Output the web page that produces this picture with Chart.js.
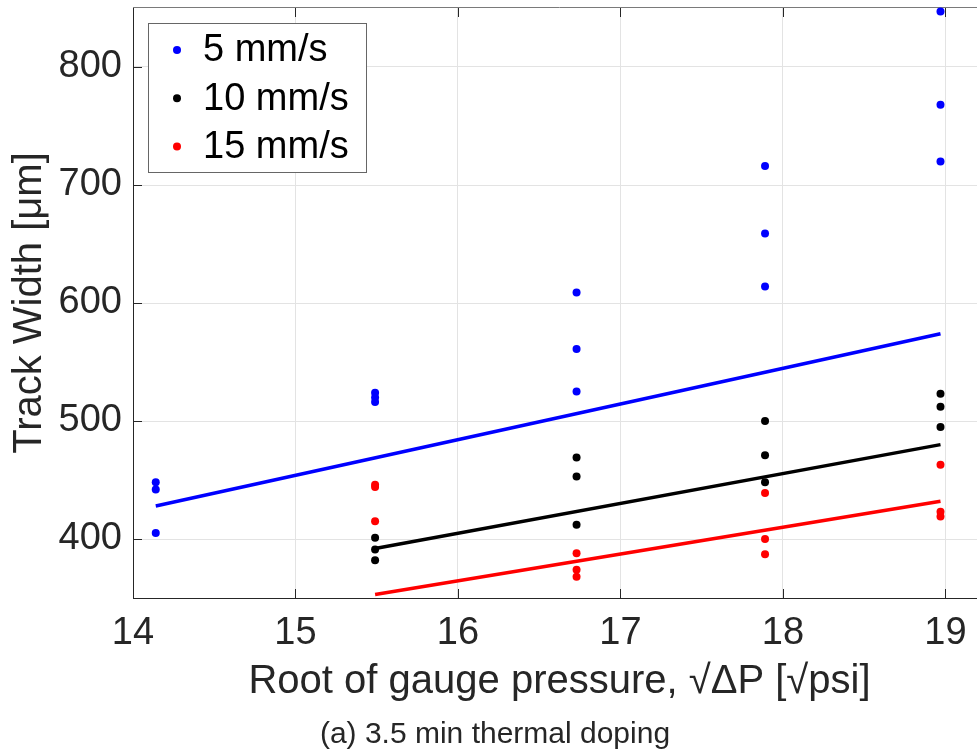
<!DOCTYPE html>
<html>
<head>
<meta charset="utf-8">
<script src="https://cdn.jsdelivr.net/npm/chart.js@4.4.1/dist/chart.umd.min.js"></script>
<style>
  html, body { margin: 0; padding: 0; background: #fff; overflow: hidden; }
  canvas { display: block; }
</style>
</head>
<body>
<!-- the original figure is cut off on the right, so the canvas runs past the window -->
<canvas id="chart" width="990" height="755"></canvas>
<script>
// measured track widths, three repeats per pressure level
const seriesNames = ["5 mm/s", "10 mm/s", "15 mm/s"];
const seriesColors = ["#0000ff", "#000000", "#ff0000"];

const x5 = [14.14, 14.14, 14.14, 15.49, 15.49, 15.49, 16.73, 16.73, 16.73, 17.89, 17.89, 17.89, 18.97, 18.97, 18.97];
const w5 = [448, 442, 405, 524, 520, 516, 609, 561, 525, 716, 659, 614, 847, 768, 720];

const x10 = [15.49, 15.49, 15.49, 16.73, 16.73, 16.73, 17.89, 17.89, 17.89, 18.97, 18.97, 18.97];
const w10 = [401, 391, 382, 469, 453, 412, 500, 471, 448, 523, 512, 495];

const x15 = [15.49, 15.49, 15.49, 16.73, 16.73, 16.73, 17.89, 17.89, 17.89, 18.97, 18.97, 18.97];
const w15 = [446, 444, 415, 388, 374, 368, 439, 400, 387, 463, 423, 419];

// linear fit end points
const fitX5 = [14.14, 18.97];
const fitY5 = [428, 574];
const fitX10 = [15.49, 18.97];
const fitY10 = [392, 480];
const fitX15 = [15.49, 18.97];
const fitY15 = [353, 432];

const xTicks = [14, 15, 16, 17, 18, 19];
const yTicks = [400, 500, 600, 700, 800];

const FONT = "'Liberation Sans', Arial, Helvetica, sans-serif";
const AXIS_COLOR = "#262626";

function pts(xs, ys) {
  return xs.map((x, i) => ({x, y: ys[i]}));
}

function dots(i, xs, ys) {
  return {
    type: "scatter",
    label: seriesNames[i],
    data: pts(xs, ys),
    backgroundColor: seriesColors[i],
    borderColor: seriesColors[i],
    pointRadius: 4,
    borderWidth: 0,
    clip: false,
    order: 1
  };
}

function fitLine(i, xs, ys) {
  return {
    type: "line",
    label: seriesNames[i] + " fit",
    data: pts(xs, ys),
    borderColor: seriesColors[i],
    borderWidth: 3.5,
    pointRadius: 0,
    fill: false,
    clip: false,
    order: 0
  };
}

// matlab-like frame: top/right edges plus inward tick marks
const frame = {
  id: "frame",
  beforeDatasetsDraw(chart) {
    const {ctx, chartArea: a, scales} = chart;
    ctx.save();
    ctx.strokeStyle = AXIS_COLOR;
    ctx.lineWidth = 1;
    ctx.beginPath();
    for (const v of xTicks) {
      const px = Math.round(scales.x.getPixelForValue(v)) + 0.5;
      ctx.moveTo(px, a.bottom);
      ctx.lineTo(px, a.bottom - 9);
      ctx.moveTo(px, a.top);
      ctx.lineTo(px, a.top + 9);
    }
    for (const v of yTicks) {
      const py = Math.round(scales.y.getPixelForValue(v)) + 0.5;
      ctx.moveTo(a.left, py);
      ctx.lineTo(a.left + 9, py);
      ctx.moveTo(a.right, py);
      ctx.lineTo(a.right - 9, py);
    }
    ctx.stroke();
    ctx.strokeStyle = "#7a7a7a";
    ctx.beginPath();
    ctx.moveTo(a.left, a.top - 0.5);
    ctx.lineTo(a.right, a.top - 0.5);
    ctx.lineTo(a.right, a.bottom);
    ctx.stroke();
    ctx.restore();
  }
};

const insideLegend = {
  id: "insideLegend",
  afterDraw(chart) {
    const {ctx, chartArea: a} = chart;
    const x0 = a.left + 15, y0 = a.top + 15, w = 218, h = 149;
    ctx.save();
    ctx.fillStyle = "#fff";
    ctx.fillRect(x0, y0, w, h);
    ctx.strokeStyle = "#666";
    ctx.lineWidth = 1;
    ctx.strokeRect(x0 + 0.5, y0 + 0.5, w, h);
    ctx.font = "38px " + FONT;
    ctx.textBaseline = "middle";
    ctx.textAlign = "left";
    for (let i = 0; i < seriesNames.length; i++) {
      const cy = y0 + 28 + i * 48.3;
      ctx.fillStyle = seriesColors[i];
      ctx.beginPath();
      ctx.arc(x0 + 29, cy - 1, 4, 0, Math.PI * 2);
      ctx.fill();
      ctx.fillStyle = "#000";
      ctx.fillText(seriesNames[i], x0 + 55, cy);
    }
    ctx.restore();
  }
};

const ctx = document.getElementById("chart").getContext("2d");
new Chart(ctx, {
  data: {
    datasets: [
      dots(0, x5, w5),
      dots(1, x10, w10),
      dots(2, x15, w15),
      fitLine(0, fitX5, fitY5),
      fitLine(1, fitX10, fitY10),
      fitLine(2, fitX15, fitY15)
    ]
  },
  options: {
    responsive: false,
    animation: false,
    layout: {padding: {top: 8, right: 0, left: 0, bottom: 0}},
    plugins: {
      legend: {display: false},
      tooltip: {enabled: false},
      title: {
        display: true,
        position: "bottom",
        text: "(a) 3.5 min thermal doping",
        color: AXIS_COLOR,
        font: {family: FONT, size: 30, weight: "normal", lineHeight: 1.2},
        padding: {top: 0, bottom: 2}
      }
    },
    scales: {
      x: {
        type: "linear",
        min: 14,
        max: 19.25,
        afterBuildTicks: (s) => { s.ticks = xTicks.map(v => ({value: v})); },
        afterFit: (s) => { s.height = 119; s.paddingLeft = 0; s.paddingRight = 0; },
        grid: {color: "#e3e3e3", lineWidth: 1, drawTicks: false},
        border: {display: true, color: AXIS_COLOR, width: 1},
        ticks: {
          color: AXIS_COLOR,
          padding: 13,
          maxRotation: 0,
          font: {family: FONT, size: 38}
        },
        title: {
          display: true,
          text: "Root of gauge pressure, \u221A\u0394P [\u221Apsi]",
          color: AXIS_COLOR,
          font: {family: FONT, size: 40},
          padding: {top: 0, bottom: 11}
        }
      },
      y: {
        type: "linear",
        min: 350,
        max: 850,
        afterBuildTicks: (s) => { s.ticks = yTicks.map(v => ({value: v})); },
        afterFit: (s) => { s.width = 133; s.paddingTop = 0; s.paddingBottom = 0; },
        grid: {color: "#e3e3e3", lineWidth: 1, drawTicks: false},
        border: {display: true, color: AXIS_COLOR, width: 1},
        ticks: {
          color: AXIS_COLOR,
          padding: 11,
          font: {family: FONT, size: 38}
        },
        title: {
          display: true,
          text: "Track Width [\u03BCm]",
          color: AXIS_COLOR,
          font: {family: FONT, size: 40},
          padding: {top: 6, bottom: 0}
        }
      }
    }
  },
  plugins: [frame, insideLegend]
});
</script>
</body>
</html>
